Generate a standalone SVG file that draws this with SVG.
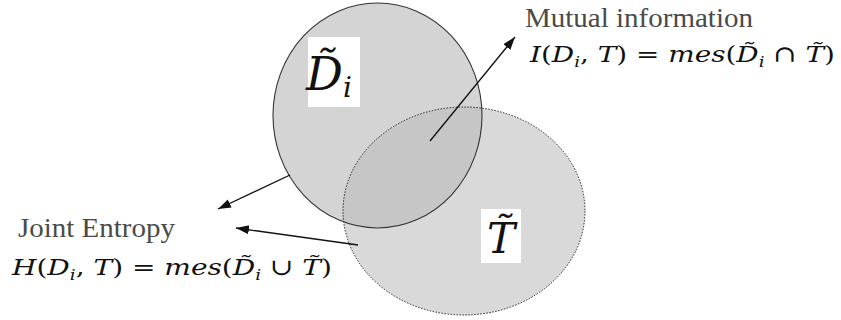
<svg xmlns="http://www.w3.org/2000/svg" width="841" height="320" viewBox="0 0 841 320">
<defs>
<style>
.lbl{font-family:"Liberation Serif","Times New Roman",serif;fill:#4a4a4a;}
.math{font-family:"DejaVu Serif","Liberation Serif",serif;fill:#111;}
.big{font-family:"DejaVu Serif","Liberation Serif",serif;fill:#111;}
.it{font-style:italic;}
.conn{stroke:#111;stroke-width:1.3;fill:none;marker-end:url(#ah);}
</style>
<marker id="ah" markerUnits="userSpaceOnUse" markerWidth="14" markerHeight="10" refX="13" refY="4.5" orient="auto">
<path d="M0,0 L13,4.5 L0,9 z" fill="#111"/>
</marker>
<clipPath id="clipD"><ellipse cx="377.5" cy="115.5" rx="104.5" ry="112.5"/></clipPath>
</defs>
<rect width="841" height="320" fill="#fff"/>
<g id="setD">
<ellipse cx="377.5" cy="115.5" rx="104.5" ry="112.5" fill="#d4d4d4"/>
</g>
<g id="setT">
<ellipse cx="464" cy="211" rx="121" ry="104" fill="#d9d9d9"/>
<ellipse cx="464" cy="211" rx="121" ry="104" fill="#c6c6c6" clip-path="url(#clipD)"/>
<ellipse cx="464" cy="211" rx="121" ry="104" fill="none" stroke="#222" stroke-width="1" stroke-dasharray="1.5,1.5"/>
</g>
<g id="setD-outline">
<ellipse cx="377.5" cy="115.5" rx="104.5" ry="112.5" fill="none" stroke="#333" stroke-width="1.1"/>
</g>
<g id="labelD">
<rect x="308" y="37" width="52" height="70" fill="#fff"/>
<text class="big it" x="306" y="90" font-size="46">D̃<tspan font-size="28" dy="7">i</tspan></text>
</g>
<g id="labelT">
<rect x="481" y="209" width="40" height="54" fill="#fff"/>
<text class="big it" x="487" y="253" font-size="42">T̃</text>
</g>
<g id="mutual">
<text class="lbl" x="525" y="27" font-size="27" textLength="228" lengthAdjust="spacingAndGlyphs">Mutual information</text>
<text class="math" x="530" y="62" font-size="23" textLength="305" lengthAdjust="spacingAndGlyphs"><tspan class="it">I</tspan>(<tspan class="it">D</tspan><tspan class="it" font-size="15" dy="5">i</tspan><tspan dy="-5">,</tspan><tspan class="it"> T</tspan>)  =  <tspan class="it">mes</tspan>(<tspan class="it">D̃</tspan><tspan class="it" font-size="15" dy="5">i</tspan><tspan dy="-5"> ∩ </tspan><tspan class="it">T̃</tspan>)</text>
</g>
<g id="joint">
<text class="lbl" x="18" y="237" font-size="27" textLength="157" lengthAdjust="spacingAndGlyphs">Joint Entropy</text>
<text class="math" x="12" y="275" font-size="23" textLength="320" lengthAdjust="spacingAndGlyphs"><tspan class="it">H</tspan>(<tspan class="it">D</tspan><tspan class="it" font-size="15" dy="5">i</tspan><tspan dy="-5">,</tspan><tspan class="it"> T</tspan>) = <tspan class="it">mes</tspan>(<tspan class="it">D̃</tspan><tspan class="it" font-size="15" dy="5">i</tspan><tspan dy="-5"> ∪ </tspan><tspan class="it">T̃</tspan>)</text>
</g>
<g id="connectors">
<line class="conn" x1="430" y1="141" x2="515" y2="37"/>
<line class="conn" x1="290" y1="175" x2="218" y2="209"/>
<line class="conn" x1="358" y1="245" x2="236" y2="228"/>
</g>
</svg>
